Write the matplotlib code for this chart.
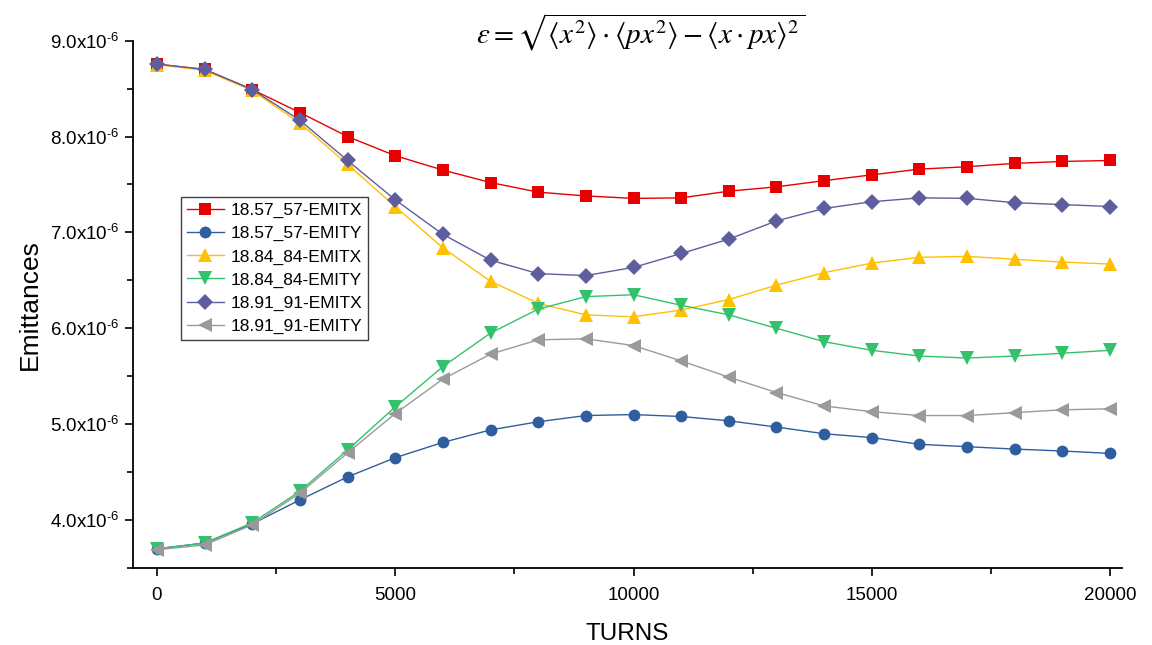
import matplotlib
matplotlib.use("Agg")
import matplotlib.pyplot as plt
from matplotlib.ticker import FuncFormatter, MultipleLocator

plt.rcParams['font.family'] = ['Liberation Sans', 'DejaVu Sans']
plt.rcParams['mathtext.fontset'] = 'stix'

turns = [0, 1000, 2000, 3000, 4000, 5000, 6000, 7000, 8000, 9000, 10000,
         11000, 12000, 13000, 14000, 15000, 16000, 17000, 18000, 19000, 20000]

emitx_1857 = [8.755, 8.70, 8.49, 8.25, 8.00, 7.80, 7.65, 7.52, 7.42, 7.38, 7.355,
              7.36, 7.43, 7.475, 7.54, 7.60, 7.66, 7.685, 7.72, 7.74, 7.75]
emity_1857 = [3.70, 3.76, 3.96, 4.21, 4.45, 4.65, 4.81, 4.94, 5.025, 5.09, 5.10,
              5.08, 5.035, 4.97, 4.90, 4.86, 4.79, 4.765, 4.74, 4.72, 4.695]
emitx_1884 = [8.75, 8.69, 8.48, 8.14, 7.71, 7.27, 6.84, 6.49, 6.26, 6.14, 6.12,
              6.19, 6.30, 6.45, 6.58, 6.68, 6.74, 6.75, 6.72, 6.69, 6.67]
emity_1884 = [3.70, 3.76, 3.97, 4.30, 4.73, 5.18, 5.60, 5.95, 6.20, 6.33, 6.35,
              6.24, 6.14, 6.00, 5.86, 5.77, 5.71, 5.69, 5.71, 5.74, 5.77]
emitx_1891 = [8.755, 8.70, 8.49, 8.17, 7.75, 7.34, 6.98, 6.71, 6.57, 6.55, 6.635,
              6.78, 6.93, 7.12, 7.25, 7.32, 7.36, 7.355, 7.31, 7.29, 7.27]
emity_1891 = [3.69, 3.74, 3.95, 4.28, 4.70, 5.11, 5.47, 5.73, 5.88, 5.89, 5.82,
              5.66, 5.49, 5.33, 5.19, 5.13, 5.09, 5.09, 5.12, 5.15, 5.16]

labels = ['18.57_57-EMITX', '18.57_57-EMITY', '18.84_84-EMITX',
          '18.84_84-EMITY', '18.91_91-EMITX', '18.91_91-EMITY']
series = [emitx_1857, emity_1857, emitx_1884, emity_1884, emitx_1891, emity_1891]
colors = ['#E60000', '#2F5E9E', '#FFC000', '#33C26B', '#5E5E9E', '#9A9A9A']
markers = ['s', 'o', '^', 'v', 'D', '<']
msizes = [8, 8.5, 10, 10, 8.5, 10]

fig = plt.figure(figsize=(11.52, 6.45), dpi=100)
ax = fig.add_axes([0.1155, 0.1194, 0.8585, 0.8176])

for vals, lab, c, m, ms in zip(series, labels, colors, markers, msizes):
    ax.plot(turns, [v * 1e-6 for v in vals], color=c, marker=m, markersize=ms,
            markeredgewidth=0, linewidth=1.0, label=lab)

ax.set_xlim(-500, 20250)
ax.set_ylim(3.5e-6, 9.0e-6)
ax.xaxis.set_major_locator(MultipleLocator(5000))
ax.xaxis.set_minor_locator(MultipleLocator(2500))
ax.yaxis.set_major_locator(MultipleLocator(1e-6))
ax.yaxis.set_minor_locator(MultipleLocator(0.5e-6))


def yfmt(v, pos):
    return r'$\mathregular{%.1fx10^{\text{-}6}}$' % (v * 1e6)


ax.yaxis.set_major_formatter(FuncFormatter(yfmt))
ax.xaxis.set_major_formatter(FuncFormatter(lambda v, p: '%d' % v))

for s in ['top', 'right']:
    ax.spines[s].set_visible(False)
for s in ['left', 'bottom']:
    ax.spines[s].set_linewidth(1.3)

ax.tick_params(axis='both', which='major', direction='out', length=6, width=1.2,
               labelsize=13.5, color='black')
ax.tick_params(axis='x', which='major', pad=7.5)
ax.tick_params(axis='both', which='minor', direction='out', length=4, width=1.2)

ax.set_xlabel('TURNS', fontsize=17.5, labelpad=14)
ax.set_ylabel('Emittances', fontsize=19, labelpad=6)

leg = ax.legend(loc='upper left', bbox_to_anchor=(0.0485, 0.7036), borderaxespad=0,
                fontsize=12.5, fancybox=False, framealpha=1, edgecolor='#404040',
                handlelength=2.1, labelspacing=0.45, borderpad=0.35, handletextpad=0.4)
leg.get_frame().set_linewidth(1.0)

fig.text(0.556, 0.950,
         r'$\varepsilon=\sqrt{\langle x^2\rangle\cdot\langle px^2\rangle-\langle x\cdot px\rangle^2}$',
         fontsize=21, ha='center', va='center')

fig.savefig('out.png', dpi=100)
